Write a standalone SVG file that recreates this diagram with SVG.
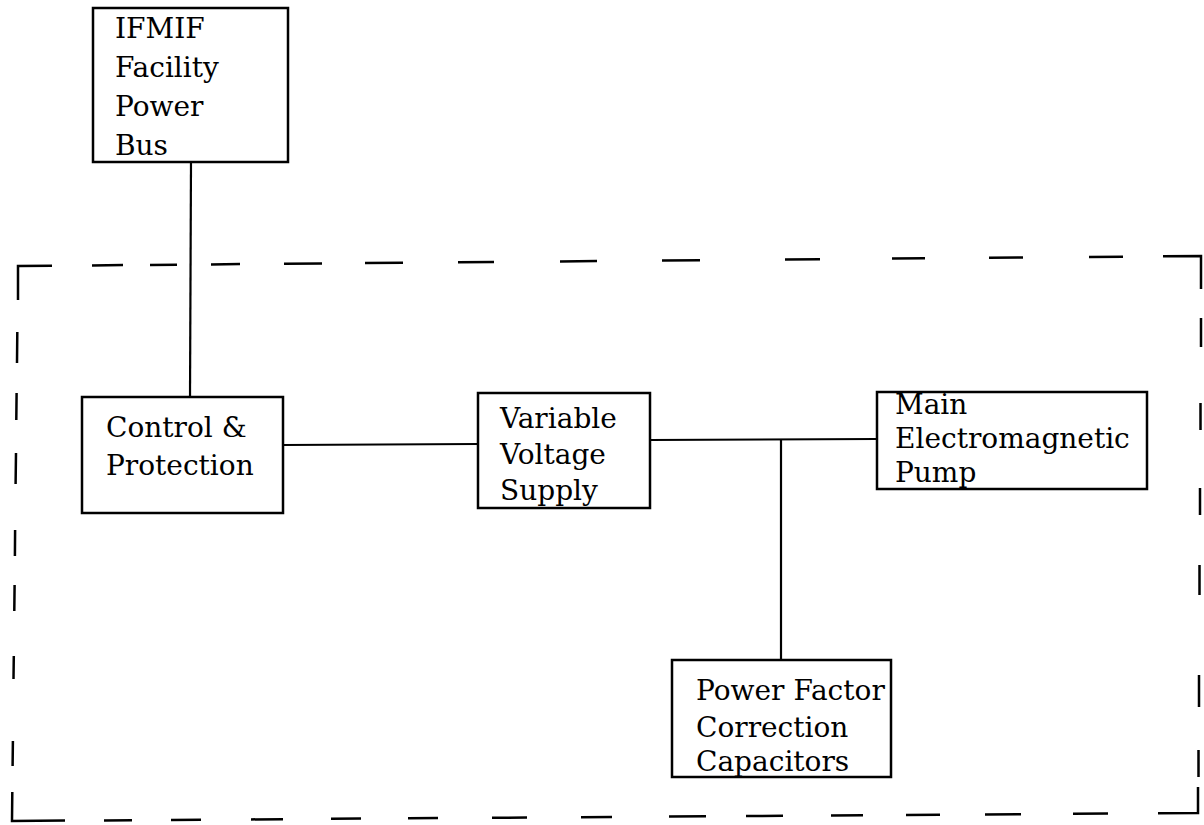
<svg xmlns="http://www.w3.org/2000/svg" width="1204" height="825" viewBox="0 0 1204 825">
<style>
.box{fill:#fff;stroke:#000;stroke-width:2.5}
.ln{fill:none;stroke:#000;stroke-width:2.2}
.dash{fill:none;stroke:#000;stroke-width:2.5;stroke-linecap:butt}
text{font-family:"DejaVu Serif","Liberation Serif",serif;font-size:28px;fill:#000}
</style>
<rect width="1204" height="825" fill="#fff"/>
<g id="boundary">
<path class="dash" d="M18,300 L18,266 L52,265.7 M92,265.4 L123,265.1 M150,264.9 L177,264.7 M211,264.4 L240,264.1 M284,263.7 L322,263.4 M365,263.1 L403,262.7 M458,262.3 L494,261.9 M560,261.4 L597,261.1 M662,260.6 L700,260.2 M785,259.5 L820,259.2 M892,258.6 L925,258.3 M989,257.8 L1023,257.5 M1089,256.9 L1123,256.7 M1163,256.3 L1201,256 L1201,289"/>
<path class="dash" d="M17.3,332 L17,363 M16.6,393 L16.3,420 M16,453 L15.6,484 M15.1,530 L14.9,556 M14.6,585 L14.3,611 M13.8,656 L13.5,679 M12.9,741 L12.6,766 M12.3,792 L12,821 L65,820.6 M104,820.4 L132,820.2 M171,819.9 L201,819.7 M251,819.4 L283,819.2 M331,818.8 L361,818.6 M408,818.3 L438,818.1 M492,817.8 L527,817.5 M581,817.2 L612,817 M669,816.6 L706,816.3 M746,816 L783,815.8 M831,815.5 L863,815.3 M906,815 L940,814.7 M985,814.4 L1021,814.2 M1073,813.8 L1108,813.6 M1158,813.3 L1198,813 L1198,787"/>
<path class="dash" d="M1201,318 L1201,347 M1200.5,403 L1200.5,430 M1200,488 L1200,515 M1199.5,565 L1199.5,595 M1199,675 L1199,707 M1198.5,750 L1198.5,777"/>
</g>
<g id="connectors">
<path class="ln" d="M191,162 L190,397"/>
<path class="ln" d="M283,445 L478,444"/>
<path class="ln" d="M650,440 L877,439"/>
<path class="ln" d="M781,440 L781,660"/>
</g>
<g id="ifmif">
<rect class="box" x="93" y="8" width="195" height="154"/>
<text x="115" y="38">IFMIF</text>
<text x="115" y="77">Facility</text>
<text x="115" y="116">Power</text>
<text x="115" y="155">Bus</text>
</g>
<g id="control">
<rect class="box" x="82" y="397" width="201" height="116"/>
<text x="106" y="437">Control &amp;</text>
<text x="106" y="475">Protection</text>
</g>
<g id="vvs">
<rect class="box" x="478" y="393" width="172" height="115"/>
<text x="500" y="428">Variable</text>
<text x="500" y="464">Voltage</text>
<text x="500" y="500">Supply</text>
</g>
<g id="pump">
<rect class="box" x="877" y="392" width="270" height="97"/>
<text x="895" y="414">Main</text>
<text x="895" y="448">Electromagnetic</text>
<text x="895" y="482">Pump</text>
</g>
<g id="pfc">
<rect class="box" x="672" y="660" width="219" height="117"/>
<text x="696" y="700">Power Factor</text>
<text x="696" y="737">Correction</text>
<text x="696" y="771">Capacitors</text>
</g>
</svg>
